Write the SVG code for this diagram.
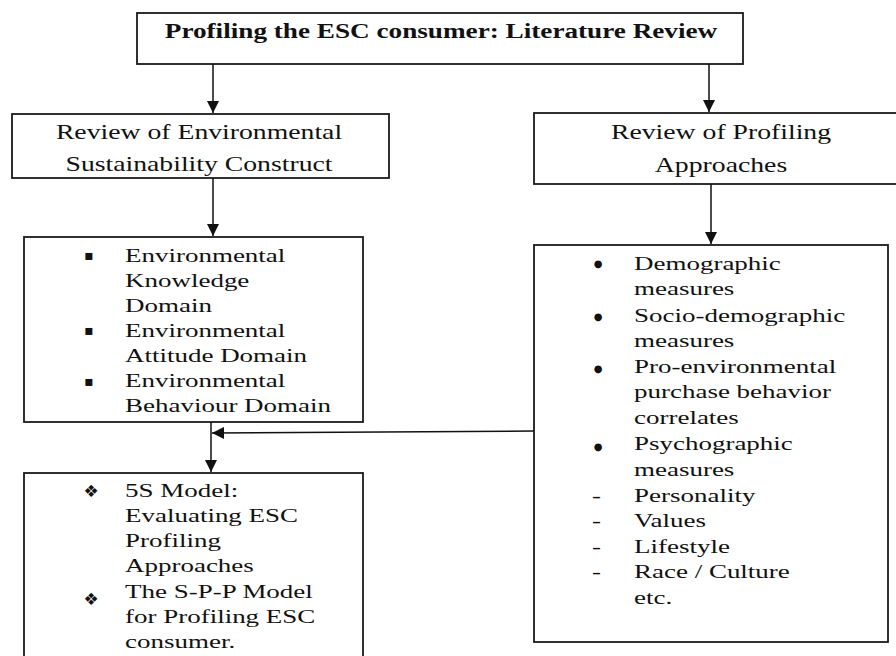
<svg xmlns="http://www.w3.org/2000/svg" width="896" height="656" viewBox="0 0 896 656">
<defs>
<marker id="ah" viewBox="0 0 12 12" refX="12" refY="6" markerWidth="12" markerHeight="12" markerUnits="userSpaceOnUse" orient="auto">
<path d="M0,0 L12,6 L0,12 Z" fill="#111"/>
</marker>
<style>
.box{fill:#fff;stroke:#1a1a1a;stroke-width:1.8}
.t{font-family:"Liberation Serif","Times New Roman",serif;font-size:19px;fill:#111}
.h{font-family:"Liberation Serif","Times New Roman",serif;font-size:21px;fill:#111;text-anchor:middle}
.title{font-family:"Liberation Serif","Times New Roman",serif;font-size:20px;font-weight:bold;fill:#111;text-anchor:middle}
.b{font-family:"DejaVu Sans",sans-serif;font-size:14px;fill:#111;text-anchor:middle}
.o{font-family:"DejaVu Sans",sans-serif;font-size:10px;fill:#111;text-anchor:middle}
.d{font-family:"DejaVu Sans",sans-serif;font-size:17px;fill:#111;text-anchor:middle}
.c{fill:none;stroke:#111;stroke-width:1.5}
</style>
</defs>
<rect width="896" height="656" fill="#fff"/>

<g id="title">
<rect class="box" x="137" y="13" width="606" height="51"/>
<text class="title" transform="translate(441,38) scale(1.36,1)">Profiling the ESC consumer: Literature Review</text>
</g>

<g id="review-env">
<rect class="box" x="12" y="114" width="377" height="64"/>
<text class="h" transform="translate(199,139) scale(1.32,1)">Review of Environmental</text>
<text class="h" transform="translate(199,171) scale(1.32,1)">Sustainability Construct</text>
</g>

<g id="review-prof">
<rect class="box" x="534" y="113" width="370" height="71"/>
<text class="h" transform="translate(721,139) scale(1.32,1)">Review of Profiling</text>
<text class="h" transform="translate(721,172) scale(1.32,1)">Approaches</text>
</g>

<g id="domains">
<rect class="box" x="24" y="237" width="339" height="185"/>
<text class="b" x="89" y="260">▪</text>
<text class="b" x="89" y="335">▪</text>
<text class="b" x="89" y="386">▪</text>
<text class="t" transform="translate(125,262) scale(1.42,1)">Environmental</text>
<text class="t" transform="translate(125,287) scale(1.42,1)">Knowledge</text>
<text class="t" transform="translate(125,312) scale(1.42,1)">Domain</text>
<text class="t" transform="translate(125,337) scale(1.42,1)">Environmental</text>
<text class="t" transform="translate(125,362) scale(1.42,1)">Attitude Domain</text>
<text class="t" transform="translate(125,387) scale(1.42,1)">Environmental</text>
<text class="t" transform="translate(125,412) scale(1.42,1)">Behaviour Domain</text>
</g>

<g id="measures">
<rect class="box" x="534" y="245" width="354" height="397"/>
<text class="o" x="598" y="267">●</text>
<text class="o" x="598" y="320">●</text>
<text class="o" x="598" y="372">●</text>
<text class="o" x="598" y="450">●</text>
<text class="t" transform="translate(592,502) scale(1.42,1)">-</text>
<text class="t" transform="translate(592,527) scale(1.42,1)">-</text>
<text class="t" transform="translate(592,553) scale(1.42,1)">-</text>
<text class="t" transform="translate(592,578) scale(1.42,1)">-</text>
<text class="t" transform="translate(634,270) scale(1.42,1)">Demographic</text>
<text class="t" transform="translate(634,295) scale(1.42,1)">measures</text>
<text class="t" transform="translate(634,322) scale(1.42,1)">Socio-demographic</text>
<text class="t" transform="translate(634,347) scale(1.42,1)">measures</text>
<text class="t" transform="translate(634,373) scale(1.42,1)">Pro-environmental</text>
<text class="t" transform="translate(634,398) scale(1.42,1)">purchase behavior</text>
<text class="t" transform="translate(634,424) scale(1.42,1)">correlates</text>
<text class="t" transform="translate(634,450) scale(1.42,1)">Psychographic</text>
<text class="t" transform="translate(634,476) scale(1.42,1)">measures</text>
<text class="t" transform="translate(634,502) scale(1.42,1)">Personality</text>
<text class="t" transform="translate(634,527) scale(1.42,1)">Values</text>
<text class="t" transform="translate(634,553) scale(1.42,1)">Lifestyle</text>
<text class="t" transform="translate(634,578) scale(1.42,1)">Race / Culture</text>
<text class="t" transform="translate(634,604) scale(1.42,1)">etc.</text>
</g>

<g id="models">
<rect class="box" x="24" y="473" width="339" height="200"/>
<text class="d" x="91" y="497">❖</text>
<text class="d" x="91" y="605">❖</text>
<text class="t" transform="translate(125,497) scale(1.42,1)">5S Model:</text>
<text class="t" transform="translate(125,522) scale(1.42,1)">Evaluating ESC</text>
<text class="t" transform="translate(125,547) scale(1.42,1)">Profiling</text>
<text class="t" transform="translate(125,572) scale(1.42,1)">Approaches</text>
<text class="t" transform="translate(125,598) scale(1.42,1)">The S-P-P Model</text>
<text class="t" transform="translate(125,623) scale(1.42,1)">for Profiling ESC</text>
<text class="t" transform="translate(125,648) scale(1.42,1)">consumer.</text>
</g>

<g id="connectors">
<line class="c" x1="213" y1="64" x2="213" y2="113" marker-end="url(#ah)"/>
<line class="c" x1="709" y1="64" x2="709" y2="112" marker-end="url(#ah)"/>
<line class="c" x1="213" y1="178" x2="213" y2="236" marker-end="url(#ah)"/>
<line class="c" x1="711" y1="184" x2="711" y2="244" marker-end="url(#ah)"/>
<line class="c" x1="534" y1="431" x2="212" y2="433" marker-end="url(#ah)"/>
<line class="c" x1="211" y1="422" x2="211" y2="472" marker-end="url(#ah)"/>
</g>
</svg>
